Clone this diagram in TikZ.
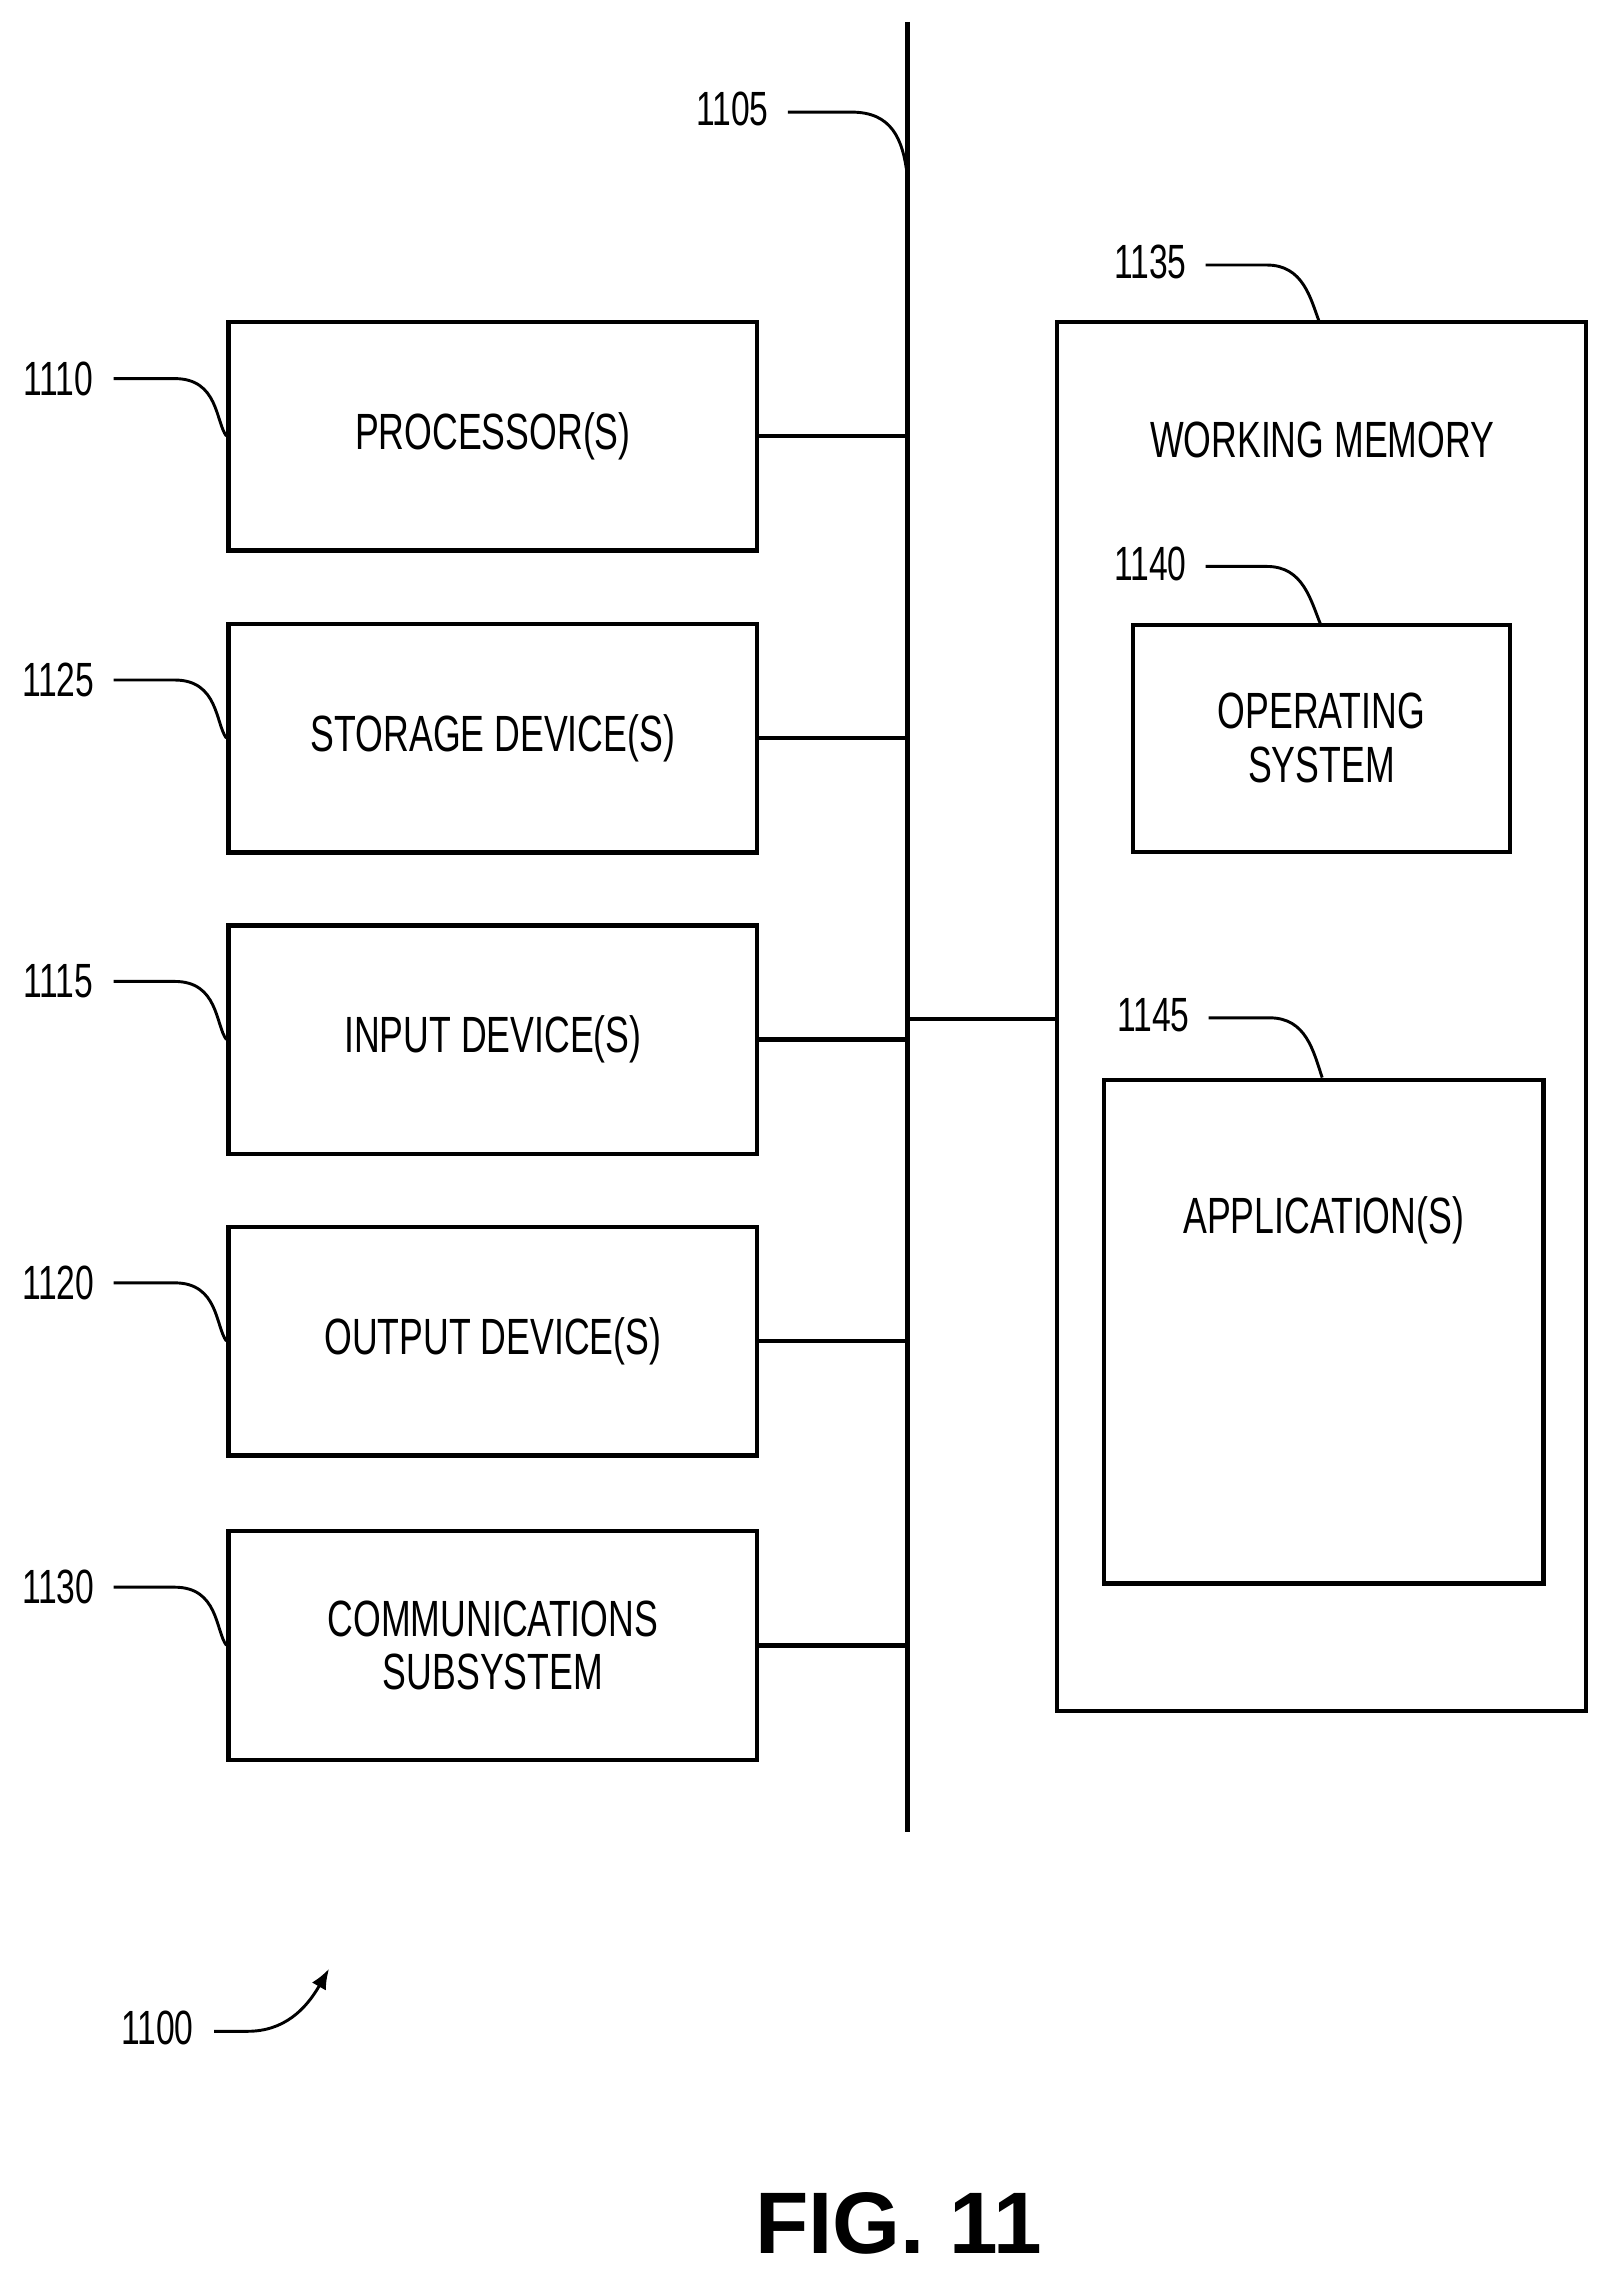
\documentclass[tikz,border=0pt]{standalone}
\usetikzlibrary{arrows.meta}
\usepackage{fontspec}
\setmainfont[FakeStretch=0.7]{Liberation Sans}
\newfontfamily\figfont{Liberation Sans}
\begin{document}
\begin{tikzpicture}[x=1pt,y=-1pt,
  box/.style={draw,line width=3pt,inner sep=0pt,align=center,font=\fontsize{35}{37}\selectfont},
  lbl/.style={font=\fontsize{33}{35}\selectfont,inner sep=0pt},
  lead/.style={line width=2pt},
  wire/.style={line width=3pt}]
\useasboundingbox (0,0) rectangle (1100,1561);
% bus
\coordinate (bt) at (623,15); \coordinate (bb) at (623,1258);
\draw[line width=3.5pt] (bt) -- (bb);
% left boxes
\foreach \n/\y/\t/\num/\ty in {p/299.5/PROCESSOR(S)/1110/260,
  s/507/STORAGE DEVICE(S)/1125/467,
  i/714/INPUT DEVICE(S)/1115/674,
  o/921/OUTPUT DEVICE(S)/1120/881,
  c/1130/COMMUNICATIONS\\SUBSYSTEM/1130/1090}{
  \node[box,minimum width=363pt,minimum height=157pt] (\n) at (338.5,\y) {\t};
  \coordinate (\n b) at (623,\y);
  \draw[wire] (\n.east) -- (\n b);
  \node[lbl] (\n l) at (40,\ty) {\num};
  \draw[lead] (78,\ty) -- (120,\ty) .. controls (150,\ty) and (148,\y-10) .. (\n.west);
}
% working memory
\node[box,minimum width=363pt,minimum height=954pt] (wm) at (907.5,698) {};
\node[font=\fontsize{35}{37}\selectfont] (wmt) at (908,302) {WORKING MEMORY};
\coordinate (wb) at (623,700);
\draw[wire] (wb) -- (wm.west |- wb);
\node[box,minimum width=259pt,minimum height=156pt] (os) at (907.5,507) {OPERATING\\SYSTEM};
\node[box,minimum width=302pt,minimum height=346pt,anchor=north] (app) at (909,740) {};
\node[font=\fontsize{35}{37}\selectfont] (appt) at (909,838) {APPLICATION(S)};
% top labels
\node[lbl] (l1105) at (503,75) {1105};
\draw[lead] (541,77) -- (585,77) .. controls (612,77) and (620,95) .. (623,120);
\node[lbl] (l1135) at (790,180) {1135};
\draw[lead] (828,182) -- (870,182) .. controls (895,182) and (900,205) .. (906,221);
\node[lbl] (l1140) at (790,387) {1140};
\draw[lead] (828,389) -- (870,389) .. controls (895,389) and (900,412) .. (907,429);
\node[lbl] (l1145) at (792,697) {1145};
\draw[lead] (830,699) -- (872,699) .. controls (897,699) and (902,722) .. (908,740);
% 1100
\node[lbl] (l1100) at (108,1393) {1100};
\coordinate (a1100) at (226,1352);
\draw[lead,-{Latex[length=14pt,width=11pt]}] (147,1395) -- (170,1395) .. controls (195,1395) and (210,1380) .. (a1100);
\node[font=\figfont\bfseries\fontsize{60}{62}\selectfont,inner sep=0pt] (fig) at (617,1527) {FIG. 11};
\end{tikzpicture}
\end{document}
